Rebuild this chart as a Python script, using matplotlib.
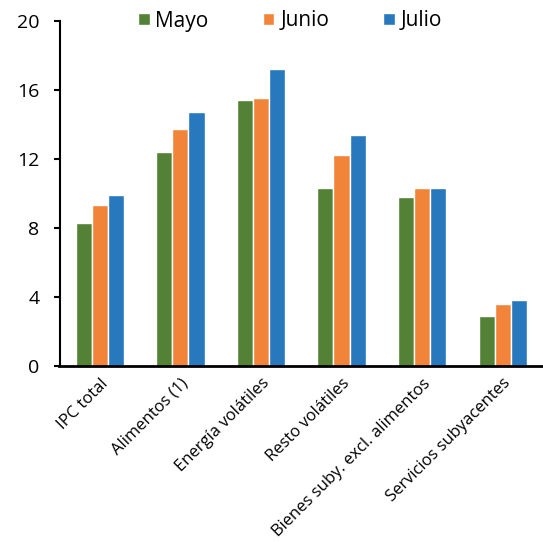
import matplotlib
matplotlib.use("Agg")
import matplotlib.pyplot as plt
import numpy as np

categories = ["IPC total", "Alimentos (1)", "Energía volátiles", "Resto volátiles",
              "Bienes suby. excl. alimentos", "Servicios subyacentes"]
mayo = [8.3, 12.4, 15.4, 10.3, 9.8, 2.9]
junio = [9.3, 13.7, 15.5, 12.2, 10.3, 3.6]
julio = [9.9, 14.7, 17.2, 13.4, 10.3, 3.8]
series_names = ["Mayo", "Junio", "Julio"]
yticks = [0, 4, 8, 12, 16, 20]

colors = ["#538135", "#F18439", "#2878BE"]

plt.rcParams['font.family'] = ['Open Sans', 'DejaVu Sans']

fig = plt.figure(figsize=(5.43, 5.42), dpi=100)
left = 59.5
ax = fig.add_axes([left/543, (542-365.7)/542, (543-left)/543, (365.7-20.7)/542])

x = np.arange(len(categories))
w = 0.2
for i, (vals, name, c) in enumerate(zip([mayo, junio, julio], series_names, colors)):
    ax.bar(x + (i-1)*w, vals, width=w, color=c, edgecolor="white", linewidth=1.0, label=name)

ax.set_xlim(-0.5, 5.5)
ax.set_ylim(0, 20)
ax.set_yticks(yticks)
ax.set_yticklabels([str(t) for t in yticks], fontsize=14)
ax.tick_params(axis='y', direction='out', length=4.5, width=1.5, pad=10)
ax.set_xticks(x)
ax.set_xticklabels(categories, rotation=45, ha='right', rotation_mode='anchor', fontsize=12)
ax.tick_params(axis='x', length=0, pad=7)
for s in ['top', 'right']:
    ax.spines[s].set_visible(False)
ax.spines['left'].set_linewidth(1.5)
ax.spines['bottom'].set_linewidth(2)

leg = ax.legend(ncol=3, loc='center', bbox_to_anchor=(290/543, (542-21)/542),
                bbox_transform=fig.transFigure, frameon=False, fontsize=15,
                handlelength=0.55, handleheight=0.55, handletextpad=0.28,
                columnspacing=2.6, borderpad=0)

fig.savefig("out.png", dpi=100)
